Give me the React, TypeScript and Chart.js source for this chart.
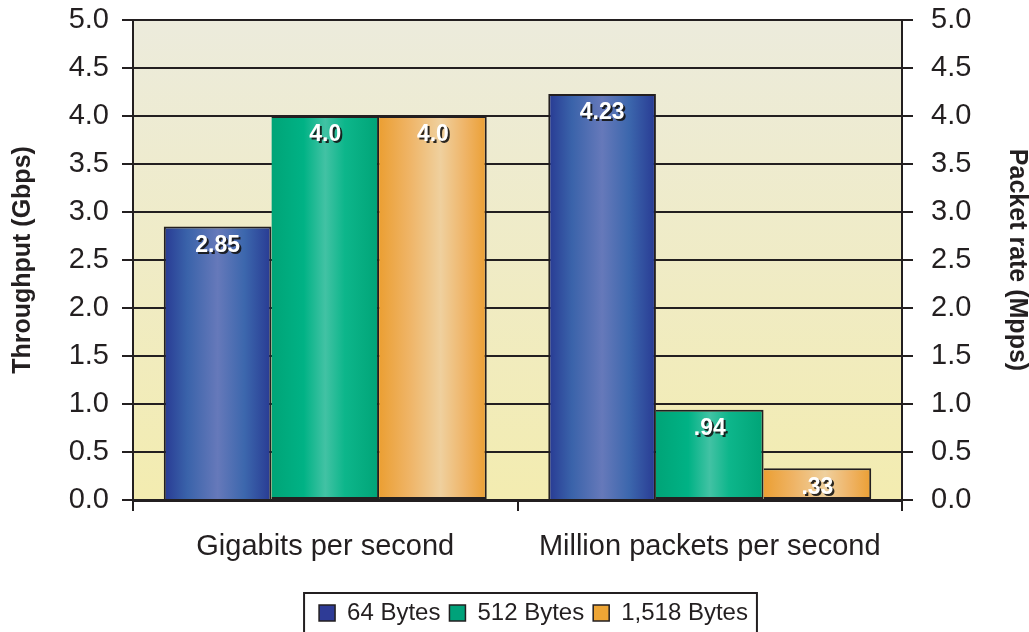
import React, { useEffect, useRef } from "react";
import { Chart, registerables } from "chart.js";

Chart.register(...registerables);

// ---------- data ----------
const categories = ["Gigabits per second", "Million packets per second"];
const seriesNames = ["64 Bytes", "512 Bytes", "1,518 Bytes"];
const bytes64 = [2.85, 4.23];
const bytes512 = [4.0, 0.94];
const bytes1518 = [4.0, 0.33];
const labels64 = ["2.85", "4.23"];
const labels512 = ["4.0", ".94"];
const labels1518 = ["4.0", ".33"];
const yTickLabels = ["0.0", "0.5", "1.0", "1.5", "2.0", "2.5", "3.0", "3.5", "4.0", "4.5", "5.0"];
const leftTitle = "Throughput (Gbps)";
const rightTitle = "Packet rate (Mpps)";

// ---------- styles ----------
const FONT = '"Liberation Sans", Arial, Helvetica, sans-serif';
const INK = "#231f20";
const CAT_PCT = 0.84;
const legendFill = ["#2e3b96", "#00a27a", "#eda535"];
const gradStops: [number, string][][] = [
  [[0, "#283a93"], [0.22, "#3a63aa"], [0.5, "#6679ba"], [0.75, "#3c67ad"], [1, "#283a93"]],
  [[0, "#00a477"], [0.3, "#00b285"], [0.5, "#42c2a4"], [0.68, "#0db68b"], [1, "#00a477"]],
  [[0, "#eb9f33"], [0.28, "#efb466"], [0.57, "#efd09e"], [0.8, "#efb467"], [1, "#eb9f33"]],
];

const barFill = (i: number) => (ctx: any) => {
  const chart = ctx.chart;
  const xs = chart.scales && chart.scales.x;
  if (!xs || !chart.chartArea || ctx.dataIndex === undefined) return legendFill[i];
  const catW = (xs.right - xs.left) / categories.length;
  const barW = (catW * CAT_PCT) / seriesNames.length;
  const center = xs.getPixelForValue(ctx.dataIndex);
  const left = center - (catW * CAT_PCT) / 2 + i * barW;
  const g = chart.ctx.createLinearGradient(left, 0, left + barW, 0);
  gradStops[i].forEach(([o, c]) => g.addColorStop(o, c));
  return g;
};

const bgPlugin = {
  id: "bgPlugin",
  beforeDraw(chart: any) {
    const { ctx, chartArea: a } = chart;
    if (!a) return;
    const g = ctx.createLinearGradient(0, a.top, 0, a.bottom);
    g.addColorStop(0, "#ecebdc");
    g.addColorStop(1, "#f3ecb0");
    ctx.save();
    ctx.fillStyle = g;
    ctx.fillRect(a.left, a.top, a.right - a.left, a.bottom - a.top);
    ctx.restore();
  },
};

const valueLabels = [labels64, labels512, labels1518];
const labelPlugin = {
  id: "labelPlugin",
  afterDatasetsDraw(chart: any) {
    const c = chart.ctx;
    valueLabels.forEach((arr, i) => {
      const meta = chart.getDatasetMeta(i);
      meta.data.forEach((el: any, j: number) => {
        const { x, y } = el.getProps(["x", "y"], true);
        c.save();
        c.font = `bold 23px ${FONT}`;
        c.textAlign = "center";
        c.textBaseline = "middle";
        c.fillStyle = "rgba(20,20,20,0.9)";
        c.fillText(arr[j], x + 2, y + 21);
        c.fillStyle = "#ffffff";
        c.fillText(arr[j], x, y + 19);
        c.restore();
      });
    });
  },
};

const LEGEND_SHIFT = 19;
const legendPlugin = {
  id: "legendBox",
  afterLayout(chart: any) {
    const lg = chart.legend;
    if (lg) {
      lg.left += LEGEND_SHIFT;
      lg.right += LEGEND_SHIFT;
    }
  },
  afterDraw(chart: any) {
    const lg = chart.legend;
    if (!lg || !lg.legendHitBoxes || !lg.legendHitBoxes.length) return;
    const hb = lg.legendHitBoxes;
    const first = hb[0];
    const last = hb[hb.length - 1];
    const c = chart.ctx;
    const left = first.left - 15;
    const right = last.left + last.width + 9;
    const top = first.top + first.height / 2 - 20;
    c.save();
    c.strokeStyle = INK;
    c.lineWidth = 2;
    c.strokeRect(left, top, right - left, 60);
    c.restore();
  },
};

export default function App() {
  const ref = useRef<HTMLCanvasElement>(null);

  useEffect(() => {
    const canvas = ref.current;
    if (!canvas) return;
    const series = [bytes64, bytes512, bytes1518];
    const chart = new Chart(canvas, {
      type: "bar",
      data: {
        labels: categories,
        datasets: series.map((d, i) => ({
          label: seriesNames[i],
          data: d,
          yAxisID: "y",
          backgroundColor: barFill(i),
          borderColor: INK,
          borderWidth: 2,
          borderSkipped: i === 0 ? "bottom" : "left",
          barPercentage: 1,
          categoryPercentage: CAT_PCT,
        })),
      },
      options: {
        responsive: false,
        animation: false,
        events: [],
        layout: { padding: { top: 20, right: 0, bottom: -3, left: 0 } },
        plugins: {
          tooltip: { enabled: false },
          title: { display: false },
          legend: {
            display: true,
            position: "bottom",
            labels: {
              font: { family: FONT, size: 24 },
              color: INK,
              boxWidth: 16,
              boxHeight: 16,
              padding: 9,
              generateLabels: () =>
                seriesNames.map((name, i) => ({
                  text: name,
                  fillStyle: legendFill[i],
                  strokeStyle: INK,
                  lineWidth: 1.5,
                  hidden: false,
                  datasetIndex: i,
                  fontColor: INK,
                })),
            },
          },
        },
        scales: {
          x: {
            offset: true,
            grid: {
              offset: true,
              drawOnChartArea: false,
              drawTicks: true,
              tickLength: 11,
              color: INK,
              lineWidth: 2,
            },
            border: { display: true, color: INK, width: 3 },
            ticks: {
              font: { family: FONT, size: 29 },
              color: INK,
              padding: 19,
              maxRotation: 0,
            },
            afterFit: (s: any) => {
              s.height = 92;
              s.paddingLeft = 0;
              s.paddingRight = 0;
            },
          },
          y: {
            position: "left",
            min: 0,
            max: 5,
            ticks: {
              stepSize: 0.5,
              font: { family: FONT, size: 29 },
              color: INK,
              padding: 13,
              callback: (_v: any, idx: number) => yTickLabels[idx],
            },
            grid: { color: INK, lineWidth: 2, tickLength: 11, drawTicks: true },
            border: { display: true, color: INK, width: 2 },
            title: {
              display: true,
              text: leftTitle,
              color: INK,
              font: { family: FONT, size: 25, weight: "bold", lineHeight: 1 },
              padding: { top: 11, bottom: 0 },
            },
            afterFit: (s: any) => {
              s.width = 133;
              s.paddingTop = 0;
              s.paddingBottom = 0;
            },
          },
          y1: {
            position: "right",
            min: 0,
            max: 5,
            ticks: {
              stepSize: 0.5,
              font: { family: FONT, size: 29 },
              color: INK,
              padding: 18,
              callback: (_v: any, idx: number) => yTickLabels[idx],
            },
            grid: { drawOnChartArea: false, color: INK, lineWidth: 2, tickLength: 11, drawTicks: true },
            border: { display: true, color: INK, width: 2 },
            title: {
              display: true,
              text: rightTitle,
              color: INK,
              font: { family: FONT, size: 25, weight: "bold", lineHeight: 1 },
              padding: { top: 0, bottom: 0 },
            },
            afterFit: (s: any) => {
              s.width = 127;
              s.paddingTop = 0;
              s.paddingBottom = 0;
            },
          },
        },
      },
      plugins: [bgPlugin, labelPlugin, legendPlugin],
    } as any);
    return () => chart.destroy();
  }, []);

  return (
    <div style={{ position: "fixed", left: 0, top: 0, width: 1029, height: 632, background: "#ffffff" }}>
      <canvas ref={ref} width={1029} height={632} style={{ display: "block" }} />
    </div>
  );
}
